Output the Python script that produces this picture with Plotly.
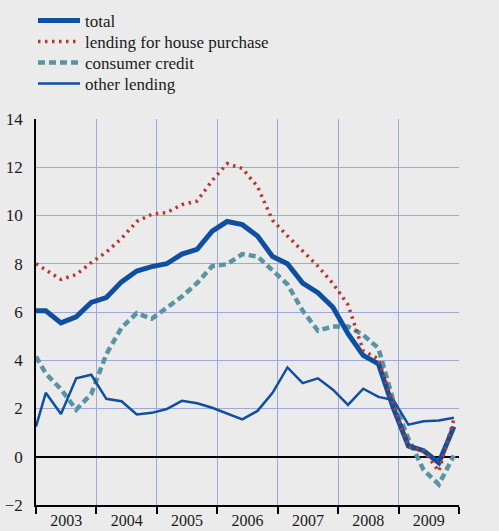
import plotly.graph_objects as go

dates = ["2003-01-01",
         "2003-03-01", "2003-06-01", "2003-09-01", "2003-12-01",
         "2004-03-01", "2004-06-01", "2004-09-01", "2004-12-01",
         "2005-03-01", "2005-06-01", "2005-09-01", "2005-12-01",
         "2006-03-01", "2006-06-01", "2006-09-01", "2006-12-01",
         "2007-03-01", "2007-06-01", "2007-09-01", "2007-12-01",
         "2008-03-01", "2008-06-01", "2008-09-01", "2008-12-01",
         "2009-03-01", "2009-06-01", "2009-09-01", "2009-12-01"]

total = [6.05, 6.05, 5.55, 5.8, 6.4, 6.6, 7.25, 7.7, 7.88, 8.0, 8.4, 8.6, 9.35,
         9.75, 9.62, 9.15, 8.3, 8.0, 7.2, 6.8, 6.2, 5.1, 4.2, 3.85, 2.0,
         0.45, 0.25, -0.25, 1.25]

house = [8.0, 7.75, 7.35, 7.55, 8.05, 8.48, 9.05, 9.75, 10.05, 10.12, 10.45, 10.6, 11.45,
         12.15, 11.95, 11.2, 9.8, 9.15, 8.5, 7.9, 7.18, 6.3, 4.4, 4.05, 2.15,
         0.4, 0.25, -0.6, 1.55]

consumer = [4.15, 3.45, 2.8, 1.95, 2.6, 4.25, 5.35, 5.95, 5.72, 6.15, 6.64, 7.2, 7.9,
            7.98, 8.4, 8.3, 7.72, 7.15, 6.05, 5.23, 5.4, 5.4, 5.05, 4.5, 2.3,
            0.75, -0.55, -1.15, 0.05]

other = [1.25, 2.65, 1.77, 3.25, 3.4, 2.4, 2.3, 1.75, 1.82, 1.98, 2.32, 2.22, 2.03,
         1.8, 1.55, 1.9, 2.65, 3.7, 3.05, 3.25, 2.78, 2.15, 2.82, 2.48, 2.35,
         1.33, 1.47, 1.5, 1.62]

BLUE = "#0f4fa0"
RED = "#b8382f"
TEAL = "#5a93a3"
GRID = "#9fa8dc"
BG = "#ebebeb"
FONT = "Times New Roman, Liberation Serif, Tinos, DejaVu Serif, serif"

fig = go.Figure()
fig.add_trace(go.Scatter(x=dates, y=consumer, mode="lines", name="consumer credit",
                         line=dict(color=TEAL, width=4.5, dash="7px,4px"), legend="legend3"))
fig.add_trace(go.Scatter(x=dates, y=other, mode="lines", name="other lending",
                         line=dict(color=BLUE, width=2.5), legend="legend4"))
fig.add_trace(go.Scatter(x=dates, y=total, mode="lines", name="total",
                         line=dict(color=BLUE, width=5), legend="legend"))
fig.add_trace(go.Scatter(x=dates, y=house, mode="lines", name="lending for house purchase",
                         line=dict(color=RED, width=3.5, dash="2.5px,4.5px"), legend="legend2"))

fig.add_shape(type="rect", xref="paper", yref="y", x0=0, x1=1, y0=-2, y1=0,
              fillcolor="rgba(235,235,235,0.6)", line=dict(width=0), layer="between")

def leg(ypx):
    return dict(x=-0.0071, xanchor="left", yref="container", y=1 - ypx / 531, yanchor="middle",
                bgcolor="rgba(0,0,0,0)", font=dict(family=FONT, size=17),
                itemwidth=42, tracegroupgap=0)

fig.update_layout(
    width=499, height=531,
    margin=dict(l=36, r=40, t=119, b=26),
    paper_bgcolor=BG, plot_bgcolor=BG,
    font=dict(family=FONT, size=17, color="#1a1a1a"),
    showlegend=True,
    legend=leg(21), legend2=leg(42), legend3=leg(63), legend4=leg(84),
    xaxis=dict(type="date", range=["2003-01-01", "2010-01-01"], dtick="M12", tick0="2003-01-01",
               ticklabelmode="period", tickformat="%Y", ticks="outside", ticklen=7,
               tickcolor="black", tickwidth=1.5, showline=True, linecolor="black", linewidth=1.5,
               showgrid=True, gridcolor=GRID, gridwidth=1, zeroline=False, fixedrange=True,
               automargin=False, ticklabelstandoff=-7, tickfont=dict(size=16)),
    yaxis=dict(range=[-2, 14], dtick=2, showgrid=True, gridcolor=GRID, gridwidth=1,
               zeroline=True, zerolinecolor="black", zerolinewidth=1.5,
               showline=True, linecolor="black", linewidth=1.5, ticks="",
               ticklabelstandoff=8, automargin=False),
    yaxis2=dict(range=[-2, 14], dtick=2, overlaying="y", side="right", anchor="x",
                showgrid=False, zeroline=False, showline=True, linecolor="black",
                linewidth=1.5, ticks="", ticklabelstandoff=16, automargin=False),
)

fig.write_html("out.html", config={"displayModeBar": False},
               post_script="document.body.style.margin='0';document.body.style.background='#ebebeb';")
